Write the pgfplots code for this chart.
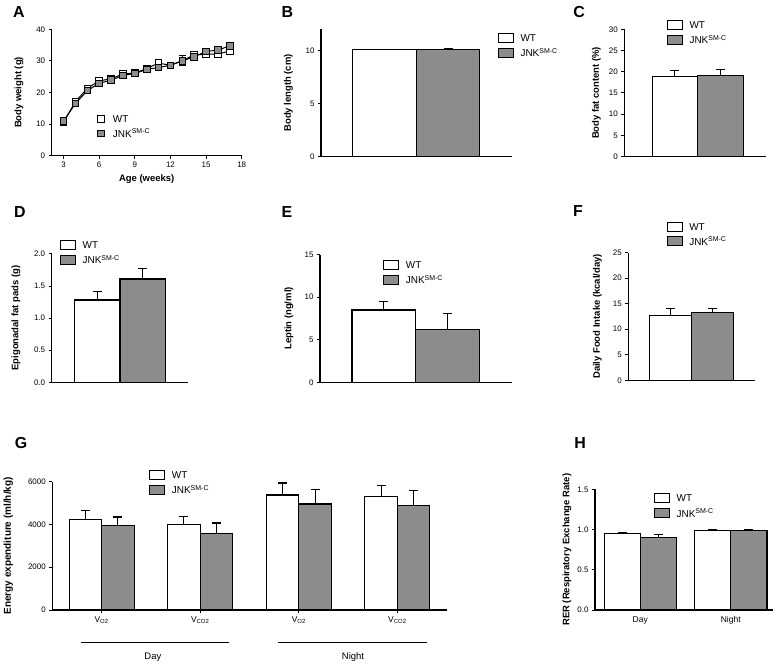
\documentclass[border=0pt]{standalone}
\usepackage{pgfplots}
\pgfplotsset{compat=1.18}
\usepackage{fontspec}
\setmainfont{Liberation Sans}
\definecolor{bargray}{RGB}{140,140,140}

\pgfplotsset{
  panel/.style={
    scale only axis, anchor=south west,
    axis lines*=left,
    axis line style={line width=1.1bp, -},
    tick style={line width=1bp, black},
    tick align=outside, major tick length=3bp,
    ymin=0, clip=false,
    tick label style={font=\fontsize{8}{9}\selectfont},
    /pgf/number format/assume math mode=true,
    /pgf/number format/1000 sep={},
    label style={font=\bfseries\fontsize{9.5}{11}\selectfont},
    legend style={draw=none, fill=none, inner sep=0pt, outer sep=0pt, anchor=north west,
      font=\fontsize{10}{11}\selectfont, row sep=4.5bp, column sep=6bp,
      nodes={inner sep=0.5bp, text depth=0pt}},
    legend cell align=left,
  },
  barlegend/.style={legend image code/.code={\draw[##1] (0bp,-4.5bp) rectangle (15bp,4.5bp);}},
  barpanel/.style={panel, xtick=\empty, xmin=0, xmax=3,
    ybar, bar width=1, bar shift=0pt, barlegend},
  ylab/.style={ylabel style={at={([xshift=-#1]axis description cs:0,0.5)}, anchor=center}},
  wt/.style={draw=black, fill=white, line width=1.1bp,
    error bars/.cd, y dir=plus, y explicit, error bar style={line width=1.1bp, black},
    error mark options={rotate=90, mark size=4.5bp, line width=1.1bp, black}},
  jnk/.style={draw=black, fill=bargray, line width=1.1bp,
    error bars/.cd, y dir=plus, y explicit, error bar style={line width=1.1bp, black},
    error mark options={rotate=90, mark size=4.5bp, line width=1.1bp, black}},
}
\newcommand{\jnk}{JNK\textsuperscript{SM-C}}

\begin{document}
\begin{tikzpicture}
\path[use as bounding box] (0,0) rectangle (780bp,666bp);
\tikzset{letter/.style={font=\bfseries\fontsize{16}{16}\selectfont}}
\node[letter] at (19bp,654bp) {A};
\node[letter] at (287.5bp,654bp) {B};
\node[letter] at (579bp,654bp) {C};
\node[letter] at (20bp,454bp) {D};
\node[letter] at (287bp,454bp) {E};
\node[letter] at (578bp,455bp) {F};
\node[letter] at (21bp,222.5bp) {G};
\node[letter] at (580bp,223bp) {H};

% A: body weight
\begin{axis}[panel, at={(51.7bp,510.3bp)}, width=190bp, height=126.4bp,
  xmin=2, xmax=18, ymax=40, xtick={3,6,...,18}, ytick={0,10,...,40},
  xlabel={Age (weeks)}, ylabel={Body weight (g)}, ylab=32.7bp,
  legend image code/.code={\draw[#1] plot coordinates {(3.5bp,0bp)};},
  legend style={at={(0.243,0.320)}, column sep=8bp, row sep=5.5bp}]
\addplot[black, line width=1bp, mark=square*, mark size=3.3bp,
  mark options={fill=white, line width=0.9bp},
  error bars/.cd, y dir=both, y explicit] coordinates {
  (3,10.6) +- (0,0.5) (4,17.1) +- (0,0.6) (5,21.3) +- (0,0.6) (6,23.7) +- (0,0.7)
  (7,24.3) +- (0,0.6) (8,25.9) +- (0,0.6) (9,26.1) +- (0,0.6) (10,27.6) +- (0,0.7)
  (11,29.3) +- (0,0.8) (12,28.6) +- (0,0.7) (13,30.1) +- (0,1.6) (14,31.9) +- (0,0.8)
  (15,32.1) +- (0,0.8) (16,32.2) +- (0,0.9) (17,33.1) +- (0,0.9)};
\addlegendentry{WT}
\addplot[black, line width=1bp, mark=square*, mark size=3.3bp,
  mark options={fill=bargray, line width=0.9bp},
  error bars/.cd, y dir=both, y explicit] coordinates {
  (3,11.0) +- (0,0.5) (4,16.5) +- (0,0.6) (5,20.6) +- (0,0.6) (6,22.9) +- (0,0.6)
  (7,23.9) +- (0,0.6) (8,25.4) +- (0,0.6) (9,26.0) +- (0,0.6) (10,27.3) +- (0,0.7)
  (11,27.9) +- (0,0.7) (12,28.6) +- (0,0.7) (13,30.0) +- (0,0.8) (14,31.3) +- (0,0.8)
  (15,33.0) +- (0,0.8) (16,33.4) +- (0,0.9) (17,34.8) +- (0,0.9)};
\addlegendentry{\jnk}
\end{axis}

% B: body length
\begin{axis}[barpanel, at={(321bp,509.3bp)}, width=190.7bp, height=127.6bp,
  ymax=12, ytick={0,5,10}, ylabel={Body length (cm)}, ylab=32.5bp,
  legend style={at={(0.928,0.969)}}]
\addplot[wt] coordinates {(1,10.05) +- (0,0.07)};
\addlegendentry{WT}
\addplot[jnk] coordinates {(2,10.1) +- (0,0.07)};
\addlegendentry{\jnk}
\end{axis}

% C: body fat content
\begin{axis}[barpanel, at={(624.3bp,509.3bp)}, width=141.7bp, height=127.4bp,
  xmin=-0.11, ymax=30, ytick={0,5,...,30}, ylabel={Body fat content (\%)}, ylab=28bp,
  legend style={at={(0.301,1.073)}}]
\addplot[wt] coordinates {(1,18.85) +- (0,1.45)};
\addlegendentry{WT}
\addplot[jnk] coordinates {(2,19.1) +- (0,1.4)};
\addlegendentry{\jnk}
\end{axis}

% D: epigonadal fat pads
\begin{axis}[barpanel, at={(51.7bp,283.7bp)}, width=136.6bp, height=128.3bp,
  ymax=2, ytick={0,0.5,...,2}, ylabel={Epigonadal fat pads (g)}, ylab=35.7bp,
  yticklabel style={/pgf/number format/.cd, fixed, fixed zerofill, precision=1},
  legend style={at={(0.061,1.109)}}]
\addplot[wt] coordinates {(1,1.283) +- (0,0.127)};
\addlegendentry{WT}
\addplot[jnk] coordinates {(2,1.61) +- (0,0.167)};
\addlegendentry{\jnk}
\end{axis}

% E: leptin
\begin{axis}[barpanel, at={(320bp,283.7bp)}, width=191.7bp, height=127.6bp,
  ymax=15, ytick={0,5,10,15}, ylabel={Leptin (ng/ml)}, ylab=31bp,
  legend style={at={(0.330,0.958)}}]
\addplot[wt] coordinates {(1,8.5) +- (0,0.98)};
\addlegendentry{WT}
\addplot[jnk] coordinates {(2,6.19) +- (0,1.91)};
\addlegendentry{\jnk}
\end{axis}

% F: daily food intake
\begin{axis}[barpanel, at={(628.3bp,285.7bp)}, width=126.7bp, height=127.6bp,
  ymax=25, ytick={0,5,...,25}, ylabel={Daily Food Intake (kcal/day)}, ylab=31bp,
  legend style={at={(0.303,1.243)}}]
\addplot[wt] coordinates {(1,12.66) +- (0,1.34)};
\addlegendentry{WT}
\addplot[jnk] coordinates {(2,13.3) +- (0,0.7)};
\addlegendentry{\jnk}
\end{axis}

% G: energy expenditure
\begin{axis}[panel, at={(52.3bp,56bp)}, width=394.4bp, height=128.3bp,
  xmin=0.5, xmax=4.5, ymax=6000, ytick={0,2000,4000,6000},
  ybar, bar width=0.33, barlegend,
  xtick={1,2,3,4},
  xticklabels={V\textsubscript{O2}, V\textsubscript{CO2}, V\textsubscript{O2}, V\textsubscript{CO2}},
  xticklabel style={font=\fontsize{8.5}{9}\selectfont},
  ylabel={Energy expenditure (ml/h/kg)}, ylab=44bp,
  ylabel style={font=\bfseries\fontsize{10}{11}\selectfont},
  legend style={at={(0.246,1.091)}}]
\addplot[wt, /pgfplots/bar shift=-0.165] coordinates {
  (1,4223) +- (0,421) (2,3990) +- (0,374) (3,5377) +- (0,561) (4,5299) +- (0,514)};
\addlegendentry{WT}
\addplot[jnk, /pgfplots/bar shift=0.165] coordinates {
  (1,3958) +- (0,390) (2,3584) +- (0,483) (3,4956) +- (0,670) (4,4894) +- (0,685)};
\addlegendentry{\jnk}
\draw[line width=1bp] ([yshift=-32.3bp]axis cs:0.79,0) -- ([yshift=-32.3bp]axis cs:2.29,0);
\draw[line width=1bp] ([yshift=-32.3bp]axis cs:2.79,0) -- ([yshift=-32.3bp]axis cs:4.30,0);
\node[font=\fontsize{9.5}{11}\selectfont] at ([yshift=-47.3bp]axis cs:1.52,0) {Day};
\node[font=\fontsize{9.5}{11}\selectfont] at ([yshift=-47.3bp]axis cs:3.55,0) {Night};
\end{axis}

% H: RER
\begin{axis}[panel, at={(595bp,56bp)}, width=178.3bp, height=120.7bp,
  xmin=0.5, xmax=2.47, ymax=1.5, ytick={0,0.5,1,1.5},
  yticklabel style={/pgf/number format/.cd, fixed, fixed zerofill, precision=1},
  ybar, bar width=0.4, barlegend,
  xtick={1,2}, xticklabels={Day, Night}, major x tick style={draw=none},
  xticklabel style={font=\fontsize{8.5}{9}\selectfont},
  ylabel={RER (Respiratory Exchange Rate)}, ylab=28bp,
  legend style={at={(0.331,0.967)}}]
\addplot[wt, /pgfplots/bar shift=-0.2] coordinates {(1,0.949) +- (0,0.017) (2,0.99) +- (0,0.013)};
\addlegendentry{WT}
\addplot[jnk, /pgfplots/bar shift=0.2] coordinates {(1,0.903) +- (0,0.038) (2,0.99) +- (0,0.013)};
\addlegendentry{\jnk}
\end{axis}
\end{tikzpicture}
\end{document}
